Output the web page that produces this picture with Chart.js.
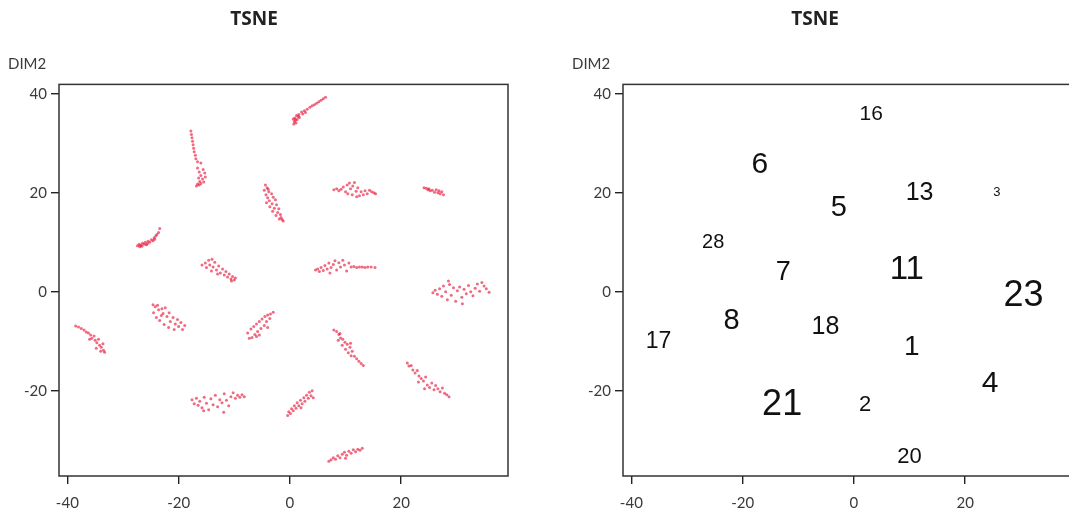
<!DOCTYPE html>
<html>
<head>
<meta charset="utf-8">
<script src="https://cdn.jsdelivr.net/npm/chart.js@4"></script>
<style>
  html, body { margin: 0; padding: 0; background: #fff; overflow: hidden; }
  #left { position: absolute; left: 0; top: 0; }
  #right { position: absolute; left: 558px; top: 0; }
</style>
</head>
<body>
<canvas id="left" width="558" height="514"></canvas>
<canvas id="right" width="594" height="514"></canvas>
<script>
// tick labels
const xTicks = [-40, -20, 0, 20];
const yTicks = [-20, 0, 20, 40];

// cluster labels (right panel): centre and relative weight
const clusterIds = ["16", "6", "5", "13", "3", "28", "7", "11", "23", "8", "18", "17", "1", "4", "21", "2", "20"];
const clusterX = [3.1, -16.9, -2.7, 11.8, 25.7, -25.3, -12.7, 9.5, 30.5, -22.0, -5.1, -35.1, 10.4, 24.5, -12.9, 2.0, 10.0];
const clusterY = [36.2, 26.2, 17.4, 20.3, 20.3, 10.3, 4.3, 4.9, -0.3, -5.5, -6.7, -9.6, -10.8, -18.1, -22.3, -22.4, -32.9];
const clusterWeight = [21, 30, 29, 25, 13, 20, 27, 33, 36, 29, 25, 23, 28, 30, 36, 22, 22];

// tsne points per cluster (left panel)
const c16 = [[6.4,39.3],[6.0,39.0],[5.6,38.7],[5.2,38.4],[4.8,38.1],[4.4,37.8],[4.0,37.6],[3.6,37.3],[3.1,36.9],[2.6,36.6],[2.8,36.2],[2.1,36.3],[1.6,35.8],[1.2,35.6],[1.7,35.2],[0.9,35.1],[1.3,34.8],[0.8,34.4],[1.1,34.1],[0.7,33.9],[1.5,35.4],[2.3,35.9],[1.0,34.7],[0.6,34.9]];
const c6 = [[-17.8,32.5],[-17.7,31.8],[-17.6,31.1],[-17.5,30.4],[-17.4,29.7],[-17.3,29.0],[-17.2,28.3],[-17.0,27.6],[-16.9,26.9],[-16.6,26.3],[-16.0,26.0],[-16.6,25.0],[-15.6,24.7],[-16.3,24.2],[-15.3,24.0],[-16.0,23.5],[-15.2,23.2],[-16.4,23.0],[-15.7,22.8],[-16.2,22.3],[-16.6,21.8],[-16.0,21.9],[-15.5,22.2],[-16.8,21.4],[-16.3,21.6]];
const c5 = [[-4.4,21.6],[-4.1,21.0],[-4.6,20.5],[-3.8,20.2],[-4.3,19.6],[-3.3,19.8],[-4.0,19.0],[-3.0,19.1],[-3.7,18.4],[-2.6,18.6],[-4.2,18.0],[-3.2,17.8],[-2.4,17.6],[-3.6,17.2],[-2.8,16.9],[-2.0,16.8],[-3.1,16.3],[-2.2,16.0],[-1.7,15.6],[-2.5,15.4],[-1.6,15.0],[-1.4,14.6],[-1.9,14.7],[-1.2,14.3],[-3.9,20.7]];
const c13 = [[7.9,20.6],[8.4,20.8],[8.8,20.4],[9.2,20.7],[9.6,21.2],[10.0,20.2],[10.3,21.6],[10.7,22.0],[10.9,20.8],[11.3,21.4],[11.6,22.1],[11.2,19.6],[11.9,20.3],[12.2,21.0],[12.5,19.4],[12.8,20.2],[13.2,19.6],[13.5,20.4],[13.9,19.8],[14.3,20.5],[14.7,20.2],[15.1,20.0],[15.4,19.8],[10.4,19.8],[12.0,19.2]];
const c3 = [[24.1,21.0],[24.5,20.9],[24.8,20.6],[25.2,20.4],[25.6,20.5],[26.0,20.1],[26.3,20.6],[26.6,20.0],[27.0,19.8],[27.3,20.2],[27.6,19.6],[25.0,20.8],[26.8,20.4]];
const c28 = [[-27.4,9.3],[-27.1,9.6],[-26.8,9.4],[-26.5,9.8],[-26.2,9.6],[-26.0,10.0],[-25.8,9.5],[-25.5,10.2],[-25.2,10.0],[-24.9,10.5],[-24.6,10.3],[-24.4,10.9],[-24.1,11.3],[-24.3,10.6],[-23.9,11.6],[-23.6,12.0],[-23.4,12.8],[-27.0,9.1],[-26.6,9.2],[-25.6,9.7]];
const c7 = [[-15.8,5.4],[-15.2,5.8],[-14.6,6.4],[-14.0,6.6],[-14.4,5.4],[-13.8,5.0],[-15.0,4.9],[-13.5,6.0],[-13.2,4.4],[-12.8,5.2],[-12.5,3.8],[-12.1,4.6],[-11.8,3.4],[-11.5,4.1],[-11.2,3.0],[-10.9,3.6],[-10.6,2.6],[-10.3,3.1],[-10.0,2.4],[-9.8,2.8],[-10.5,2.2],[-13.0,3.6],[-14.1,4.2]];
const c11 = [[4.6,4.4],[5.0,4.6],[5.3,4.1],[5.6,4.9],[6.0,4.3],[6.3,5.3],[6.7,4.6],[7.0,5.8],[7.4,4.9],[7.8,5.5],[8.1,6.3],[8.4,4.4],[8.8,5.9],[9.1,5.0],[9.5,6.4],[9.8,5.4],[10.2,4.2],[10.6,5.8],[11.0,5.0],[11.5,5.1],[12.0,4.9],[12.5,5.0],[13.0,5.0],[13.5,4.9],[14.0,5.0],[14.6,5.0],[15.3,4.9],[7.2,3.8]];
const c23 = [[25.7,-0.2],[26.1,0.3],[26.5,-0.5],[26.9,0.6],[27.3,-0.9],[27.6,1.2],[28.0,0.0],[28.3,-1.6],[28.7,1.5],[29.0,-0.7],[29.4,0.8],[29.8,-1.9],[30.1,0.2],[30.5,1.0],[30.9,-1.1],[31.3,0.5],[31.7,-0.4],[32.1,1.3],[32.5,0.0],[32.9,-0.8],[33.3,0.7],[33.7,1.6],[34.1,0.1],[34.5,1.9],[34.9,1.2],[35.3,0.6],[35.8,-0.1],[28.5,2.2],[31.0,-2.4]];
const c8 = [[-24.6,-2.6],[-24.2,-3.0],[-23.8,-2.7],[-24.5,-4.2],[-23.6,-3.6],[-23.0,-3.4],[-22.8,-4.4],[-24.0,-5.2],[-22.4,-3.2],[-22.1,-5.0],[-23.4,-5.8],[-21.7,-4.2],[-21.5,-6.0],[-22.6,-6.6],[-21.0,-5.2],[-20.6,-6.5],[-21.8,-7.2],[-20.2,-5.6],[-20.0,-7.0],[-19.6,-6.2],[-19.3,-7.6],[-18.9,-6.8],[-20.8,-7.6],[-23.1,-4.8]];
const c18 = [[-3.0,-4.1],[-3.5,-4.5],[-4.0,-4.7],[-3.6,-5.4],[-4.5,-5.0],[-4.2,-6.0],[-5.0,-5.5],[-4.6,-6.8],[-5.5,-6.0],[-5.2,-7.4],[-6.0,-6.5],[-5.8,-8.0],[-6.5,-7.0],[-6.3,-8.6],[-7.0,-7.5],[-6.8,-9.2],[-7.3,-9.4],[-7.6,-8.3],[-5.5,-8.7],[-4.0,-7.2],[-6.0,-9.0]];
const c17 = [[-38.5,-6.9],[-38.0,-7.1],[-37.5,-7.4],[-37.0,-7.7],[-36.6,-8.1],[-36.2,-8.3],[-35.8,-8.7],[-35.6,-9.4],[-35.2,-8.9],[-35.0,-9.8],[-34.7,-10.3],[-34.4,-9.6],[-34.2,-10.8],[-33.9,-11.2],[-33.6,-10.5],[-33.5,-11.8],[-33.3,-12.2],[-34.0,-12.0],[-36.0,-9.6],[-34.8,-11.4]];
const c1 = [[7.9,-7.7],[8.4,-8.0],[8.8,-8.6],[9.1,-9.3],[8.7,-9.8],[9.5,-9.6],[9.9,-10.2],[9.4,-10.8],[10.3,-10.6],[10.0,-11.6],[10.8,-11.2],[10.5,-12.3],[11.2,-12.0],[11.0,-12.9],[11.6,-13.0],[12.0,-13.5],[12.4,-14.0],[12.8,-14.5],[13.2,-14.9],[9.0,-8.4],[10.9,-10.4]];
const c4 = [[21.1,-14.4],[21.4,-15.0],[21.8,-14.9],[22.1,-15.8],[22.5,-16.4],[22.9,-15.9],[23.2,-17.0],[23.6,-17.5],[23.1,-18.2],[24.0,-18.0],[24.4,-17.2],[24.7,-18.8],[25.1,-19.3],[25.5,-18.4],[25.9,-19.8],[26.2,-18.9],[26.6,-19.6],[27.0,-20.2],[27.4,-19.4],[27.8,-20.5],[28.2,-20.8],[28.6,-21.2],[24.2,-19.6]];
const c21 = [[-17.6,-21.8],[-17.2,-22.6],[-16.8,-21.5],[-16.5,-22.9],[-16.2,-22.1],[-15.8,-23.4],[-15.4,-21.3],[-15.0,-22.5],[-14.6,-23.8],[-14.2,-21.6],[-13.8,-22.8],[-13.4,-20.9],[-13.0,-23.2],[-12.6,-21.8],[-12.2,-22.4],[-11.8,-20.6],[-11.4,-21.9],[-11.0,-23.0],[-10.6,-21.2],[-10.2,-20.4],[-9.8,-21.5],[-9.4,-20.9],[-9.0,-21.3],[-8.6,-20.8],[-8.2,-21.2],[-11.9,-24.3],[-15.5,-24.0]];
const c2 = [[-0.4,-25.0],[-0.2,-24.2],[0.1,-24.6],[0.3,-23.6],[0.6,-24.0],[0.8,-23.0],[1.1,-23.5],[1.3,-22.4],[1.6,-23.0],[1.9,-21.9],[2.2,-22.6],[2.5,-21.4],[2.7,-22.1],[3.0,-20.9],[3.3,-21.5],[3.5,-20.3],[3.8,-21.0],[4.0,-20.0],[4.2,-21.4],[2.0,-23.4]];
const c20 = [[7.0,-34.2],[7.4,-33.9],[7.8,-33.5],[8.2,-33.8],[8.6,-33.1],[9.0,-33.5],[9.4,-32.8],[9.8,-32.4],[10.2,-33.0],[10.6,-32.2],[11.0,-32.6],[11.4,-31.9],[11.8,-32.3],[12.2,-31.8],[12.6,-32.0],[13.0,-31.6],[10.0,-33.6]];

const allPoints = [c16, c6, c5, c13, c3, c28, c7, c11, c23, c8, c18, c17, c1, c4, c21, c2, c20]
  .flat()
  .map((p) => ({ x: p[0], y: p[1] }));

const tickFont = { family: "Lato, 'Noto Sans', sans-serif", size: 15 };
const inkColor = "#333";

// box round the plot area + the DIM2 label
const frame = {
  id: "frame",
  afterDraw(chart) {
    const { ctx, chartArea } = chart;
    ctx.save();
    ctx.strokeStyle = inkColor;
    ctx.lineWidth = 1.5;
    ctx.strokeRect(chartArea.left, chartArea.top, chartArea.right - chartArea.left, chartArea.bottom - chartArea.top);
    ctx.fillStyle = "#3a3a3a";
    ctx.font = "15px Lato, 'Noto Sans', sans-serif";
    ctx.textAlign = "left";
    ctx.textBaseline = "middle";
    ctx.fillText("DIM2", chartArea.left - 51, chartArea.top - 20);
    ctx.restore();
  },
};

// cluster ids drawn as text at each point
const textPoints = {
  id: "textPoints",
  afterDatasetsDraw(chart) {
    const meta = chart.getDatasetMeta(0);
    const ctx = chart.ctx;
    ctx.save();
    ctx.fillStyle = "#111";
    ctx.textAlign = "center";
    ctx.textBaseline = "middle";
    meta.data.forEach((pt, i) => {
      const size = clusterWeight[i];
      ctx.font = size + "px 'Liberation Sans', Arial, sans-serif";
      // nudge so the digits (not the em box) sit centred on the point
      ctx.fillText(clusterIds[i], pt.x, pt.y + size * 0.08);
    });
    ctx.restore();
  },
};

function axes(yWidth) {
  const grid = { drawOnChartArea: false, drawTicks: true, tickLength: 8, color: "#222", lineWidth: 1.4 };
  return {
    x: {
      type: "linear",
      min: -41.5,
      max: 39.2,
      grid: grid,
      border: { display: false },
      ticks: { font: tickFont, color: "#3a3a3a", padding: 10 },
      afterBuildTicks: (s) => { s.ticks = xTicks.map((v) => ({ value: v })); },
      afterFit: (s) => { s.height = 38; },
    },
    y: {
      type: "linear",
      min: -37.2,
      max: 41.9,
      grid: grid,
      border: { display: false },
      ticks: { font: tickFont, color: "#3a3a3a", padding: 4 },
      afterBuildTicks: (s) => { s.ticks = yTicks.map((v) => ({ value: v })); },
      afterFit: (s) => { s.width = yWidth; },
    },
  };
}

function plugins() {
  return {
    legend: { display: false },
    tooltip: { enabled: false },
    title: {
      display: true,
      text: "TSNE",
      color: "#222",
      font: { family: "'Open Sans', 'Noto Sans', sans-serif", size: 19, weight: "bold" },
      padding: { top: 8, bottom: 53.6 },
    },
  };
}

new Chart(document.getElementById("left"), {
  type: "scatter",
  data: {
    datasets: [
      {
        data: allPoints,
        backgroundColor: "rgba(228, 8, 45, 0.6)",
        borderWidth: 0,
        pointRadius: 1.5,
      },
    ],
  },
  options: {
    responsive: false,
    animation: false,
    layout: { padding: { left: 0, right: 50, top: 0, bottom: 0 } },
    scales: axes(59),
    plugins: plugins(),
  },
  plugins: [frame],
});

new Chart(document.getElementById("right"), {
  type: "scatter",
  data: {
    datasets: [
      {
        data: clusterX.map((x, i) => ({ x: x, y: clusterY[i] })),
        pointRadius: 0,
        borderWidth: 0,
      },
    ],
  },
  options: {
    responsive: false,
    animation: false,
    layout: { padding: { left: 0, right: 80, top: 0, bottom: 0 } },
    scales: axes(65),
    plugins: plugins(),
  },
  plugins: [frame, textPoints],
});
</script>
</body>
</html>
